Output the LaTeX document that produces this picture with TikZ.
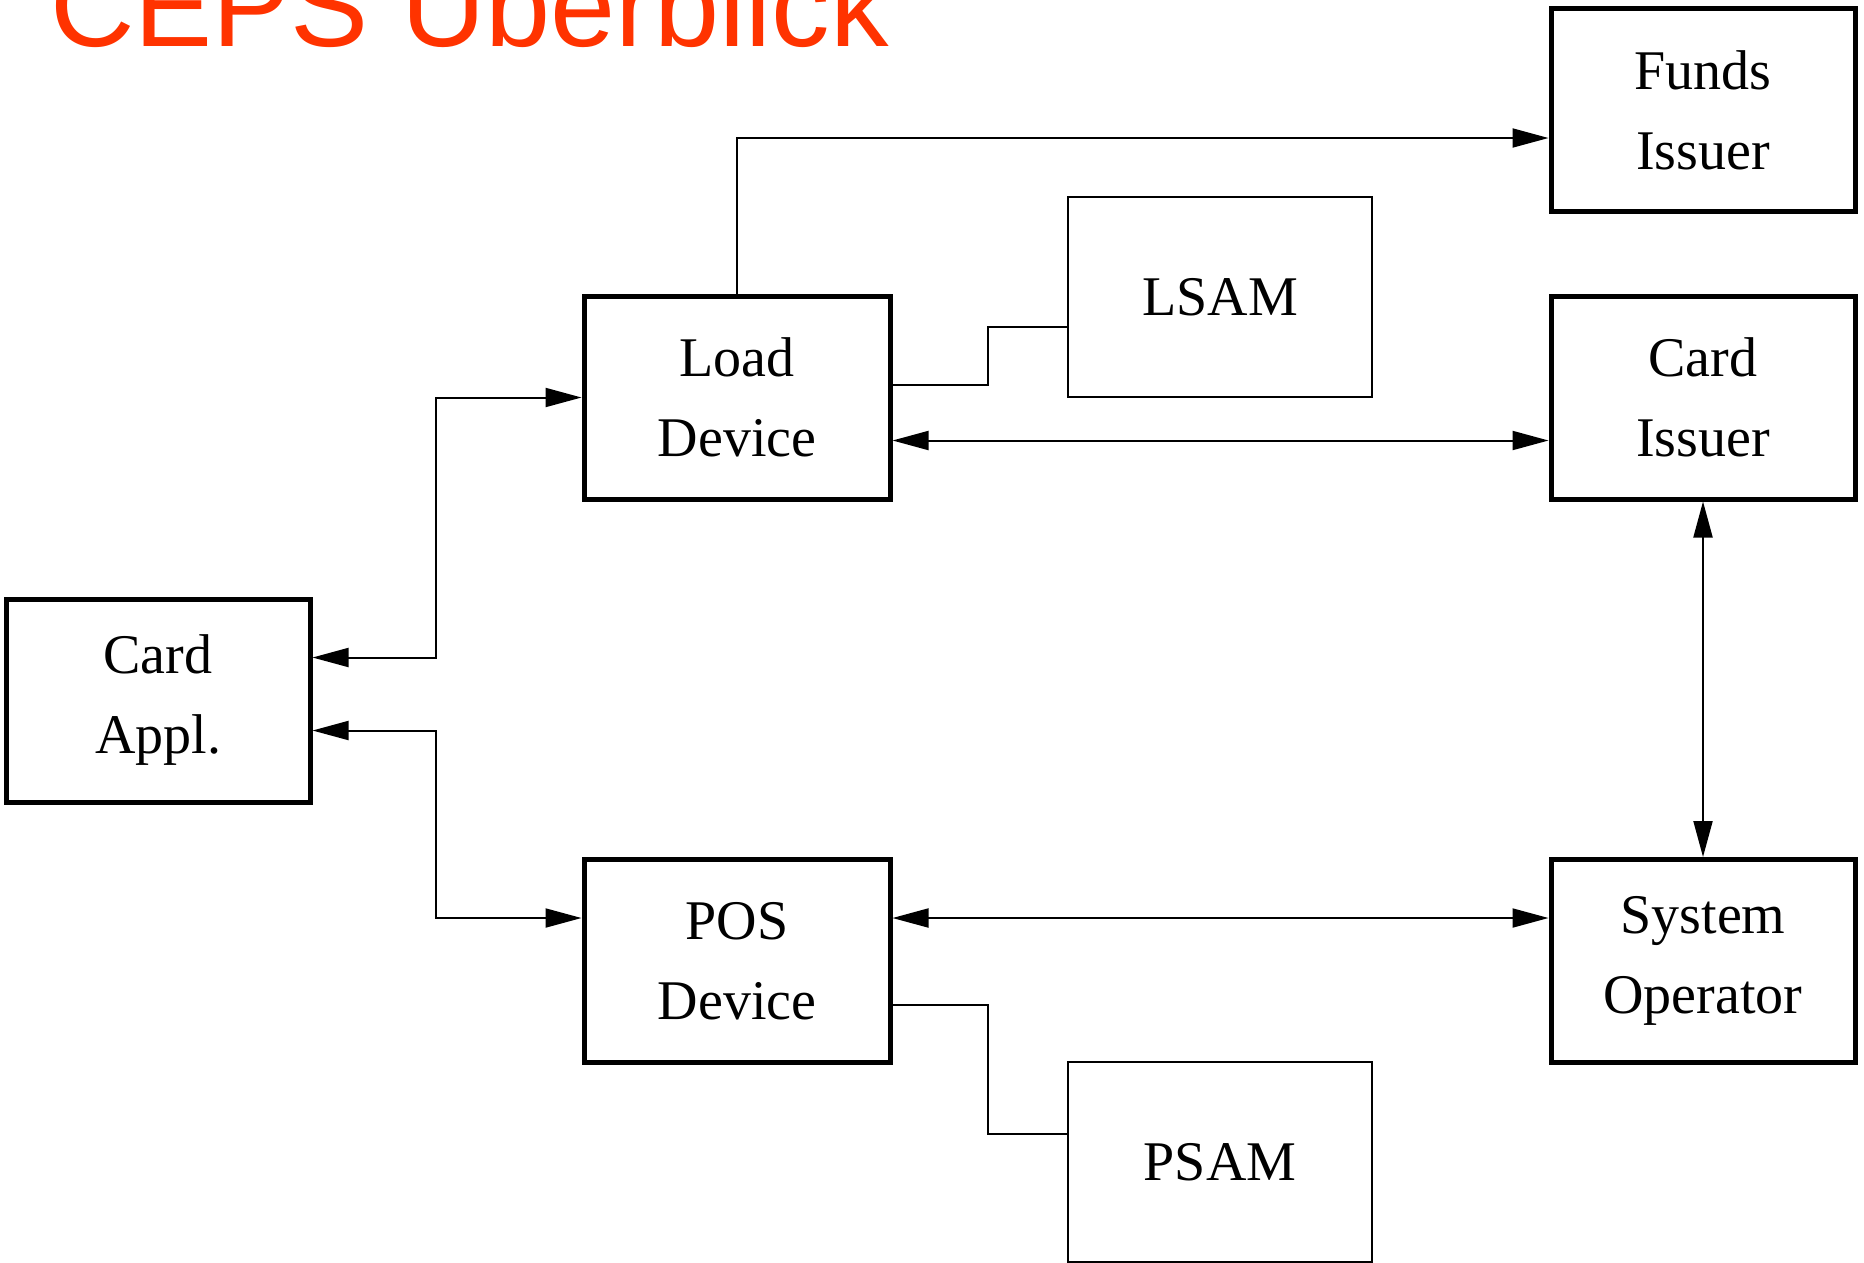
\documentclass[tikz,border=0pt]{standalone}
\usepackage{fontspec}
\setmainfont{Liberation Serif}
\newfontfamily\titlefam{Liberation Sans}
\usetikzlibrary{arrows.meta}
\definecolor{titlered}{RGB}{255,51,0}
\begin{document}
\begin{tikzpicture}[x=1pt,y=-1pt,
  boxtext/.style={font=\fontsize{56}{80}\selectfont, align=center, inner sep=0pt},
  bigbox/.style={boxtext, draw, line width=5pt, minimum width=304pt, minimum height=203pt},
  smallbox/.style={boxtext, draw, line width=2.5pt, minimum width=304pt, minimum height=200pt},
  conn/.style={line width=2pt},
  tip/.tip={Triangle[length=36pt,width=19pt]},
  arr/.style={conn, -tip},
  biarr/.style={conn, tip-tip}]
\useasboundingbox (0,0) rectangle (1864,1262);
\node[anchor=base west, text=titlered, inner sep=0pt, font=\titlefam\fontsize{117}{117}\selectfont] (title) at (50,46) {CEPS Überblick};
\node[bigbox] (funds) at (1703,110) {Funds\\Issuer};
\node[bigbox] (cardiss) at (1703,397.5) {Card\\Issuer};
\node[bigbox] (sysop) at (1703,961) {System\\Operator};
\node[bigbox, minimum width=306pt] (load) at (737,397.5) {Load\\Device};
\node[bigbox, minimum width=306pt] (pos) at (737,961) {POS\\Device};
\node[bigbox] (cardappl) at (158,700.5) {Card\\Appl.};
\node[smallbox] (lsam) at (1220,297) {LSAM};
\node[smallbox] (psam) at (1220,1162) {PSAM};
% connectors
\draw[arr] (load.north) |- ([yshift=-28pt]funds.west);
\draw[conn] ([yshift=13pt]load.east) -- ++(95pt,0) |- ([yshift=-30pt]lsam.west);
\draw[biarr] ([yshift=-43pt]load.east) -- ([yshift=-43pt]cardiss.west);
\draw[biarr] (cardiss.south) -- (sysop.north);
\draw[biarr] ([yshift=43pt]pos.east) -- ([yshift=43pt]sysop.west);
\draw[conn] ([yshift=-44pt]pos.east) -- ++(95pt,0) |- ([yshift=28pt]psam.west);
\draw[biarr] ([yshift=43pt]cardappl.east) -- ++(123pt,0) |- (load.west);
\draw[biarr] ([yshift=-30pt]cardappl.east) -- ++(123pt,0) |- ([yshift=43pt]pos.west);
\end{tikzpicture}
\end{document}
